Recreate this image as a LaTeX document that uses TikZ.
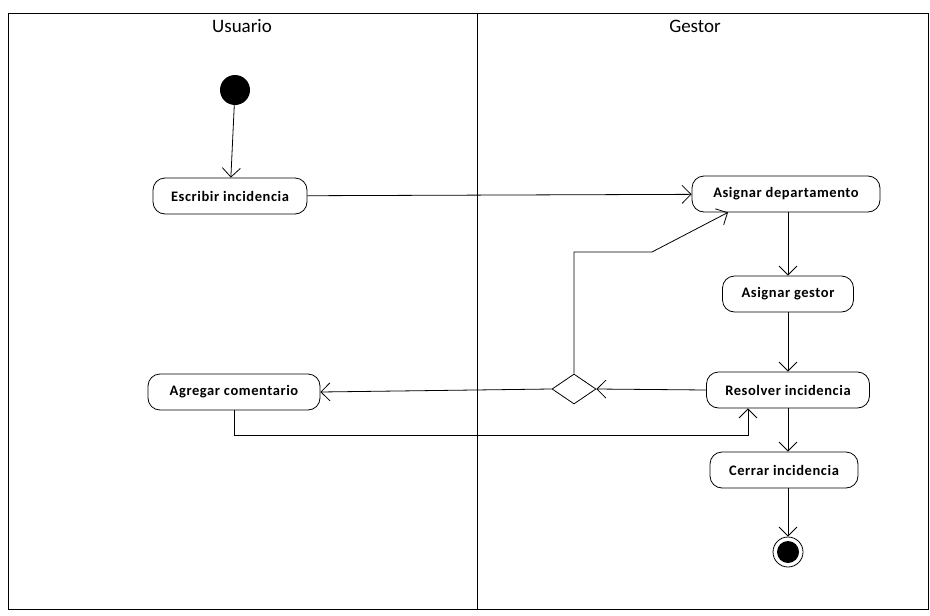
\documentclass[tikz,border=0pt]{standalone}
\usepackage{fontspec}
\setmainfont{Carlito}
\usetikzlibrary{arrows.meta,shapes.geometric}
\begin{document}
\begin{tikzpicture}[x=1pt,y=-1pt,
  act/.style={draw, rounded corners=12pt, minimum height=36pt, inner sep=2pt, line width=0.8pt, font=\fontsize{14.5}{17}\selectfont\bfseries\addfontfeatures{LetterSpace=4}},
  flow/.style={draw, line width=0.8pt, -{Straight Barb[length=9pt,width=18pt,line width=0.8pt]}},
  lane/.style={font=\fontsize{19}{22}\selectfont}
]
\useasboundingbox (0,0) rectangle (930,616);
\draw[line width=1pt] (8,13) rectangle (928,609);
\coordinate (dtop) at (477,13);
\coordinate (dbot) at (477,609);
\draw[line width=1pt] (dtop) -- (dbot);
\node[lane] (lu) at (242,26) {Usuario};
\node[lane] (lg) at (695,26) {Gestor};

\node[circle, fill, minimum size=30pt, inner sep=0pt] (start) at (235,90) {};
\node[act, minimum width=154pt] (esc) at (230,196) {Escribir incidencia};
\node[act, minimum width=188pt] (dep) at (786,194) {Asignar departamento};
\node[act, minimum width=131pt] (ges) at (788,294) {Asignar gestor};
\node[act, minimum width=163pt] (res) at (788,390) {Resolver incidencia};
\node[act, minimum width=148pt] (cer) at (784,470) {Cerrar incidencia};
\node[act, minimum width=172pt] (com) at (234,392) {Agregar comentario};
\node[diamond, draw, line width=0.8pt, minimum width=44pt, minimum height=30pt, inner sep=0pt] (dia) at (574,389) {};
\node[circle, draw, line width=0.8pt, minimum size=30pt, inner sep=0pt] (fin) at (788,552) {};
\fill (fin) circle (11pt);

\draw[flow] (start) -- (esc);
\draw[flow] (esc) -- (dep);
\draw[flow] (dep.south -| ges) -- (ges);
\draw[flow] (ges) -- (res.north -| ges);
\draw[flow] (res.west) -- (dia.east);
\draw[flow] (dia.west) -- (com.east);
\coordinate (b1) at (574,252);
\coordinate (b2) at (652,252);
\coordinate (b3) at (728,252);
\draw[flow] (dia.north) -- (b1) -- (b2) -- (dep.south -| b3);
\coordinate (c1) at (748,435);
\draw[flow] (com.south) |- (c1) -- (res.south -| c1);
\draw[flow] (res.south -| ges) -- (cer.north -| ges);
\draw[flow] (cer.south -| fin) -- (fin.north);
\end{tikzpicture}
\end{document}
